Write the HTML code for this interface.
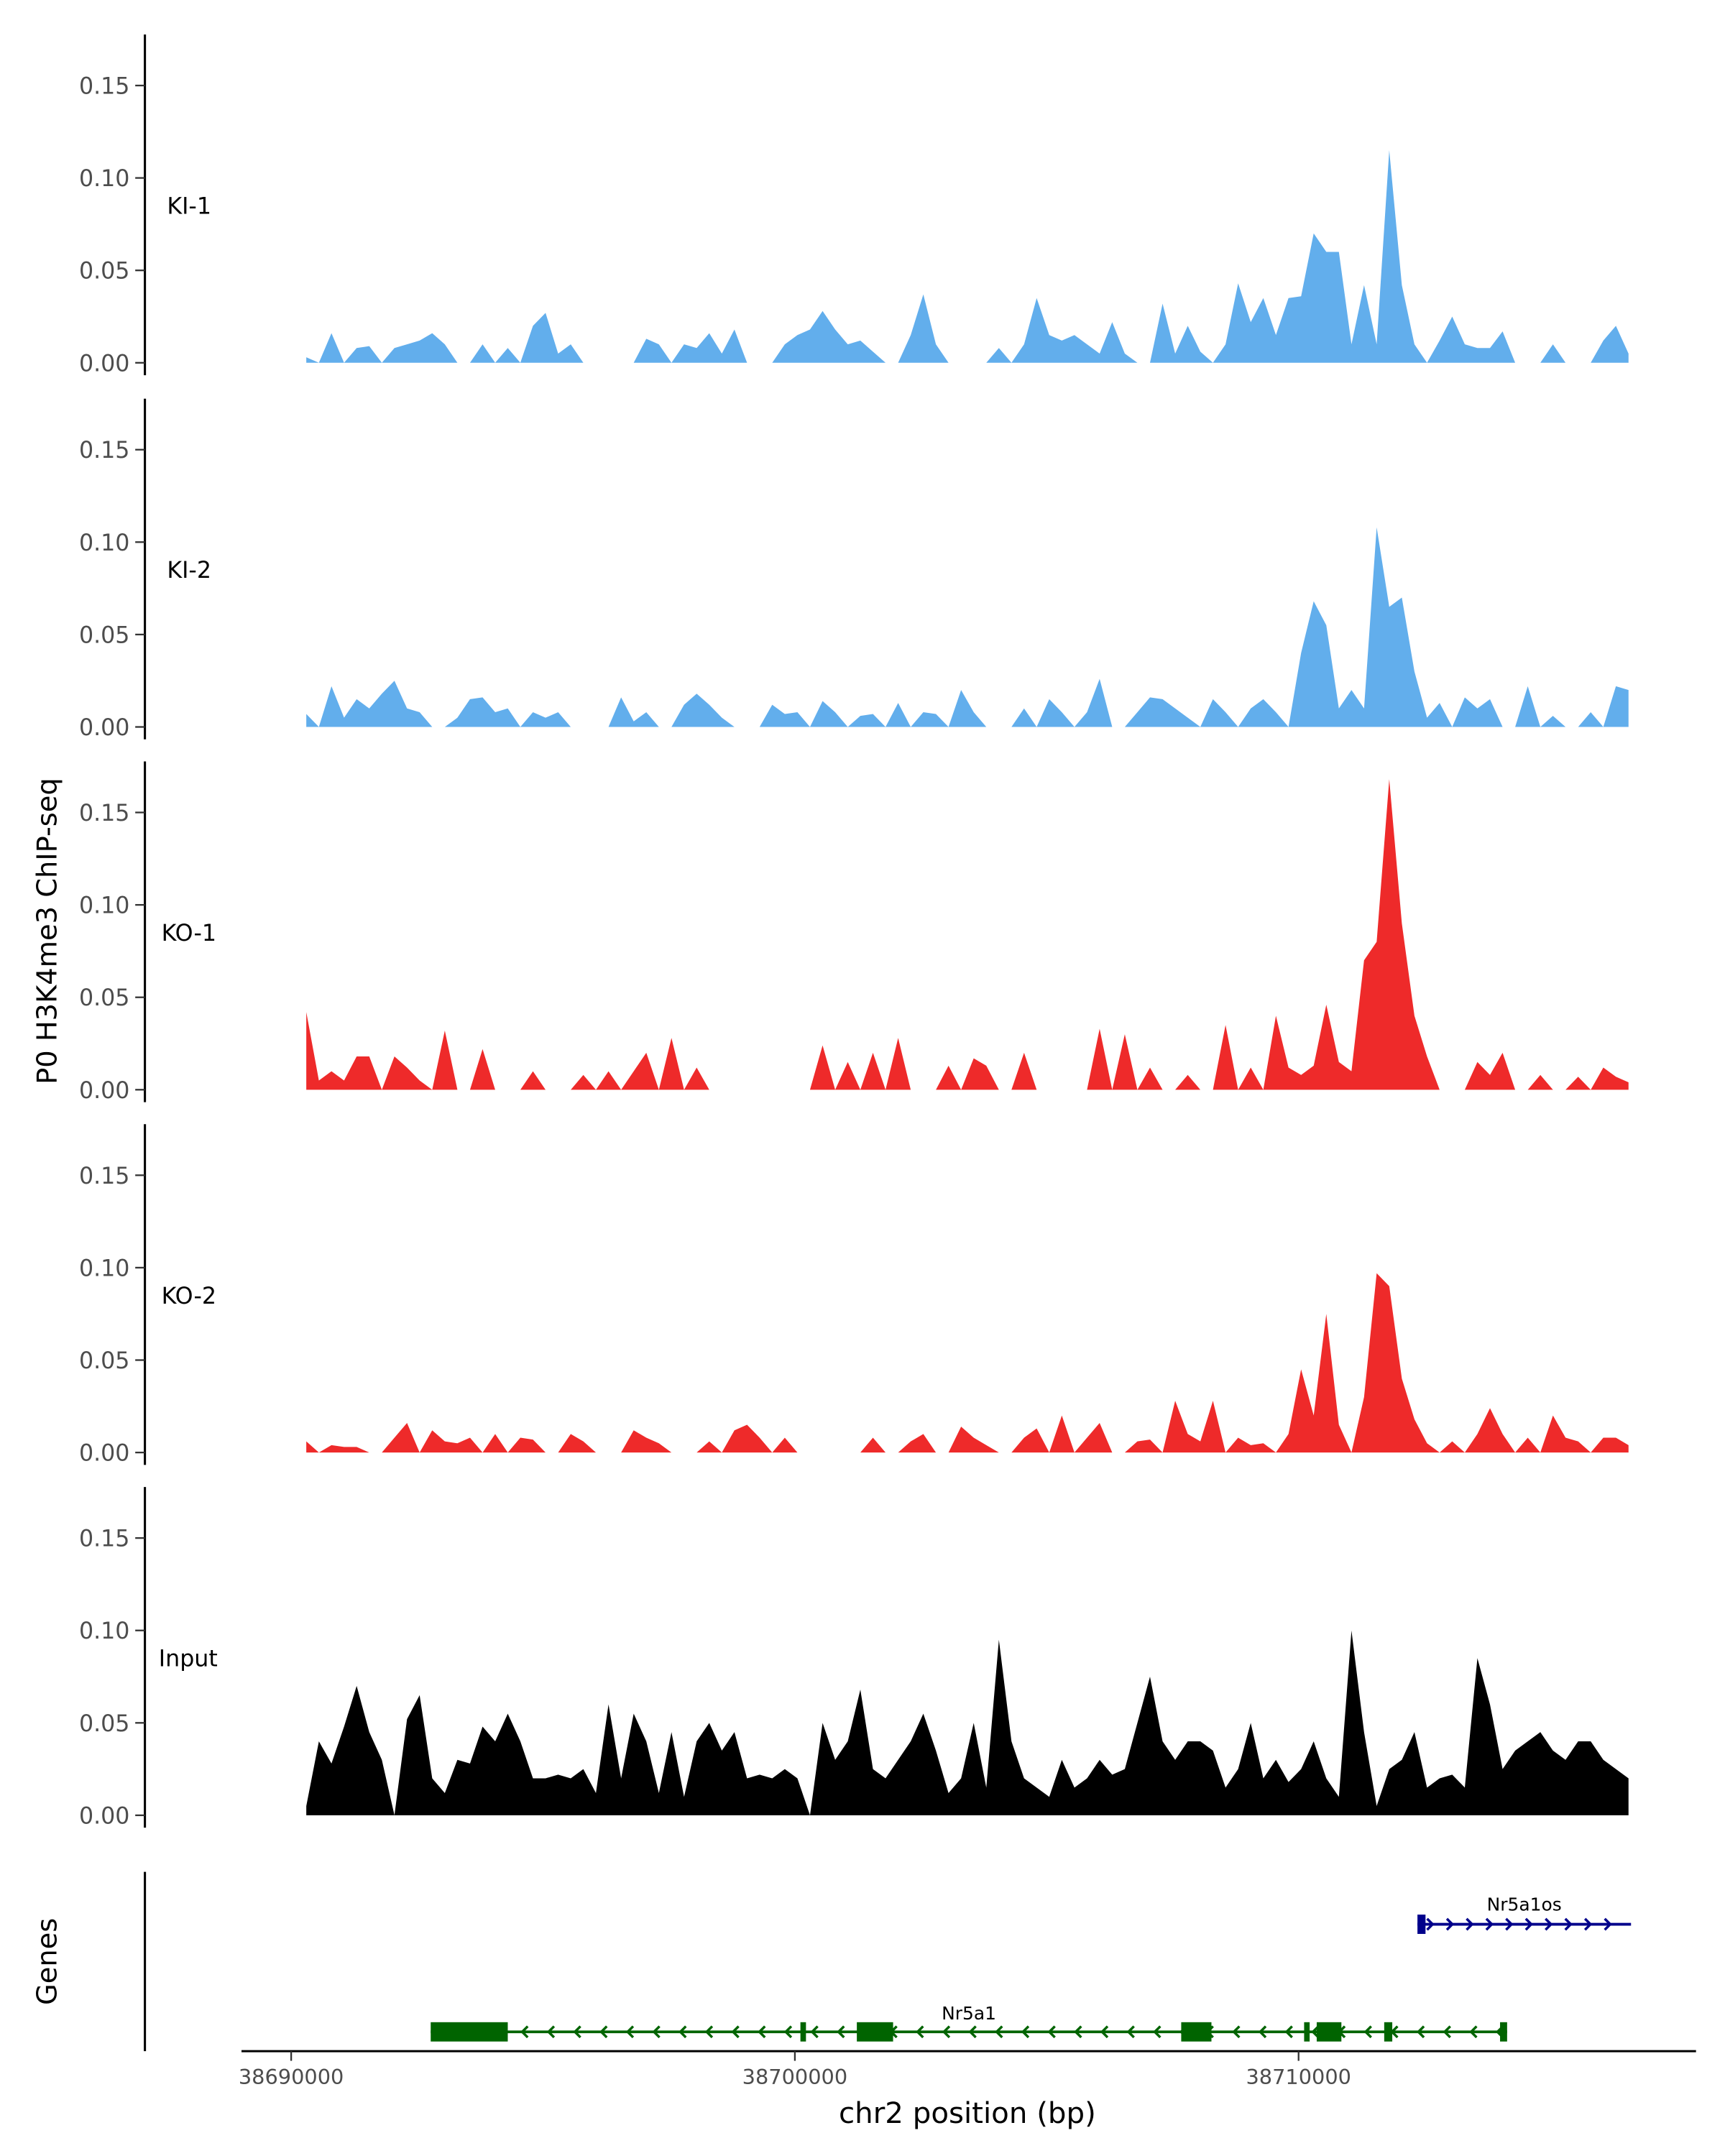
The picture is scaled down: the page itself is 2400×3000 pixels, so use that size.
<!DOCTYPE html>
<html><head><meta charset="utf-8"><style>
html,body{margin:0;padding:0;background:#fff;}
svg{display:block;}
text{font-family:"DejaVu Sans","Liberation Sans",sans-serif;}
</style></head><body>
<svg id="chart" width="2400" height="3000" viewBox="0 0 1250 1563" preserveAspectRatio="none" xmlns="http://www.w3.org/2000/svg">
<rect width="1250" height="1563" fill="#fff"/>
<g id="tracks"></g>
<g id="genes"></g>
<g id="xaxis"></g>
<text x="0" y="0" transform="translate(41,675) rotate(-90)" text-anchor="middle" font-size="20" fill="#000">P0 H3K4me3 ChIP-seq</text>
<text x="0" y="0" transform="translate(41,1422) rotate(-90)" text-anchor="middle" font-size="20" fill="#000">Genes</text>
<text x="701" y="1539" text-anchor="middle" font-size="21" fill="#000">chr2 position (bp)</text>
</svg>
<script>
const binStartKb = 38690.3;
const binWidthKb = 0.25;
const trackNames = ["KI-1","KI-2","KO-1","KO-2","Input"];
const trackColors = ["#62AEEC","#62AEEC","#EE2A2A","#EE2A2A","#000000"];
const yTicks = [0, 0.05, 0.10, 0.15];
const yTickLabels = ["0.00","0.05","0.10","0.15"];
const xTicks = [38690000, 38700000, 38710000];
const xTickLabels = ["38690000","38700000","38710000"];

const ki1 = [0.003,0,0.016,0,0.008,0.009,0,0.008,0.01,0.012,0.016,0.01,0,0,0.01,0,0.008,0,0.02,0.027,0.005,0.01,0,0,0,0,0,0.013,0.01,0,0.01,0.008,0.016,0.005,0.018,0,0,0,0.01,0.015,0.018,0.028,0.018,0.01,0.012,0.006,0,0,0.015,0.037,0.01,0,0,0,0,0.008,0,0.01,0.035,0.015,0.012,0.015,0.01,0.005,0.022,0.005,0,0,0.032,0.005,0.02,0.006,0,0.01,0.043,0.022,0.035,0.015,0.035,0.036,0.07,0.06,0.06,0.01,0.042,0.01,0.115,0.042,0.01,0,0.012,0.025,0.01,0.008,0.008,0.017,0,0,0,0.01,0,0,0,0.012,0.02,0.005];
const ki2 = [0.007,0,0.022,0.005,0.015,0.01,0.018,0.025,0.01,0.008,0,0,0.005,0.015,0.016,0.008,0.01,0,0.008,0.005,0.008,0,0,0,0,0.016,0.003,0.008,0,0,0.012,0.018,0.012,0.005,0,0,0,0.012,0.007,0.008,0,0.014,0.008,0,0.006,0.007,0,0.013,0,0.008,0.007,0,0.02,0.008,0,0,0,0.01,0,0.015,0.008,0,0.008,0.026,0,0,0.008,0.016,0.015,0.01,0.005,0,0.015,0.008,0,0.01,0.015,0.008,0,0.04,0.068,0.055,0.01,0.02,0.01,0.108,0.065,0.07,0.03,0.005,0.013,0,0.016,0.01,0.015,0,0,0.022,0,0.006,0,0,0.008,0,0.022,0.02];
const ko1 = [0.042,0.005,0.01,0.005,0.018,0.018,0,0.018,0.012,0.005,0,0.032,0,0,0.022,0,0,0,0.01,0,0,0,0.008,0,0.01,0,0.01,0.02,0,0.028,0,0.012,0,0,0,0,0,0,0,0,0,0.024,0,0.015,0,0.02,0,0.028,0,0,0,0.013,0,0.017,0.013,0,0,0.02,0,0,0,0,0,0.033,0,0.03,0,0.012,0,0,0.008,0,0,0.035,0,0.012,0,0.04,0.012,0.008,0.013,0.046,0.015,0.01,0.07,0.08,0.168,0.09,0.04,0.018,0,0,0,0.015,0.008,0.02,0,0,0.008,0,0,0.007,0,0.012,0.007,0.004];
const ko2 = [0.006,0,0.004,0.003,0.003,0,0,0.008,0.016,0,0.012,0.006,0.005,0.008,0,0.01,0,0.008,0.007,0,0,0.01,0.006,0,0,0,0.012,0.008,0.005,0,0,0,0.006,0,0.012,0.015,0.008,0,0.008,0,0,0,0,0,0,0.008,0,0,0.006,0.01,0,0,0.014,0.008,0.004,0,0,0.008,0.013,0,0.02,0,0.008,0.016,0,0,0.006,0.007,0,0.028,0.01,0.006,0.028,0,0.008,0.004,0.005,0,0.01,0.045,0.02,0.075,0.015,0,0.03,0.097,0.09,0.04,0.018,0.005,0,0.006,0,0.01,0.024,0.01,0,0.008,0,0.02,0.008,0.006,0,0.008,0.008,0.004];
const input = [0.005,0.04,0.028,0.048,0.07,0.045,0.03,0,0.052,0.065,0.02,0.012,0.03,0.028,0.048,0.04,0.055,0.04,0.02,0.02,0.022,0.02,0.025,0.012,0.06,0.02,0.055,0.04,0.012,0.045,0.01,0.04,0.05,0.035,0.045,0.02,0.022,0.02,0.025,0.02,0,0.05,0.03,0.04,0.068,0.025,0.02,0.03,0.04,0.055,0.035,0.012,0.02,0.05,0.015,0.095,0.04,0.02,0.015,0.01,0.03,0.015,0.02,0.03,0.022,0.025,0.05,0.075,0.04,0.03,0.04,0.04,0.035,0.015,0.025,0.05,0.02,0.03,0.018,0.025,0.04,0.02,0.01,0.1,0.045,0.005,0.025,0.03,0.045,0.015,0.02,0.022,0.015,0.085,0.06,0.025,0.035,0.04,0.045,0.035,0.03,0.04,0.04,0.03,0.025,0.02];
const trackData = [ki1, ki2, ko1, ko2, input];

const geneNames = ["Nr5a1","Nr5a1os"];
const nr5a1Span = [38692.77, 38714.14];
const nr5a1ExonStarts = [38692.77, 38700.11, 38701.23, 38707.67, 38710.11, 38710.36, 38711.70, 38714.00];
const nr5a1ExonEnds   = [38694.30, 38700.22, 38701.95, 38708.27, 38710.22, 38710.85, 38711.86, 38714.14];
const nr5a1osSpan = [38712.36, 38716.60];
const nr5a1osExonStarts = [38712.36];
const nr5a1osExonEnds = [38712.52];

const NS = "http://www.w3.org/2000/svg";
const X0 = 211, PXKB = 36.5;
function xScale(kb){ return X0 + (kb - 38690) * PXKB; }
function xScaleBp(bp){ return xScale(bp/1000); }
const panelBase = [263, 527, 790, 1053, 1316];
const PXUNIT = 1340;
function yScale(v, p){ return panelBase[p] - v * PXUNIT; }
function mk(tag, attrs, parent){ const e=document.createElementNS(NS,tag); for(const k in attrs) e.setAttribute(k,attrs[k]); parent.appendChild(e); return e; }

const tracksG = document.getElementById('tracks');
trackData.forEach((vals, p) => {
  const g = mk('g', {}, tracksG);
  
  
  const base = panelBase[p];
  const ax = mk('line', {x1:105, x2:105, y1:base-238, y2:base+9, stroke:'#000', 'stroke-width':1.6}, g);
  
  
  yTicks.forEach((t, i) => {
    const y = yScale(t, p);
    const tk = mk('line', {x1:98, x2:105, y1:y, y2:y, stroke:'#333', 'stroke-width':1.2}, g);
    
    
    const lb = mk('text', {x:94, y:y+6, 'text-anchor':'end', 'font-size':16.5, fill:'#4d4d4d'}, g);
    lb.textContent = yTickLabels[i];
    
    
  });
  const tl = mk('text', {x: p===4 ? 115 : (p>=2 ? 117 : 121), y: base-108, 'font-size':16.5, fill:'#000'}, g);
  tl.textContent = trackNames[p];
  
  
  let d = 'M' + xScale(binStartKb).toFixed(2) + ',' + base;
  vals.forEach((v, i) => {
    d += ' L' + xScale(binStartKb + i*binWidthKb).toFixed(2) + ',' + yScale(v, p).toFixed(2);
  });
  d += ' L' + xScale(binStartKb + (vals.length-1)*binWidthKb).toFixed(2) + ',' + base + ' Z';
  const area = mk('path', {d:d, fill:trackColors[p], stroke:'none'}, g);
  
  
});

const genesG = document.getElementById('genes');
const gax = mk('line', {x1:105, x2:105, y1:1357, y2:1487, stroke:'#000', 'stroke-width':1.6}, genesG);



function drawGene(name, span, starts, ends, y, color, dir, labelY){
  const g = mk('g', {}, genesG);
  
  
  const x1 = xScale(span[0]), x2 = xScale(span[1]);
  mk('line', {x1:x1, x2:x2, y1:y, y2:y, stroke:color, 'stroke-width':2}, g);
  for (let x = x1 + 10; x < x2 - 4; x += dir>0 ? 14.3 : 19.1) {
    const dpath = dir>0 ? `M${x-3},${y-4} L${x+1},${y} L${x-3},${y+4}` : `M${x+3},${y-4} L${x-1},${y} L${x+3},${y+4}`;
    mk('path', {d:dpath, fill:'none', stroke:color, 'stroke-width':1.8}, g);
  }
  starts.forEach((s, i) => {
    const r = mk('rect', {x:xScale(s), y:y-7, width:Math.max(2, xScale(ends[i])-xScale(s)), height:14, fill:color}, g);
    
    
  });
  const t = mk('text', {x:(x1+x2)/2, y:labelY, 'text-anchor':'middle', 'font-size':13, fill:'#000'}, g);
  t.textContent = name;
  
  
}
drawGene(geneNames[0], nr5a1Span, nr5a1ExonStarts, nr5a1ExonEnds, 1473, '#006400', -1, 1464);
drawGene(geneNames[1], nr5a1osSpan, nr5a1osExonStarts, nr5a1osExonEnds, 1395, '#00008B', 1, 1385);

const xg = document.getElementById('xaxis');
const xl = mk('line', {x1:175, x2:1229, y1:1487, y2:1487, stroke:'#000', 'stroke-width':1.6}, xg);


xTicks.forEach((t, i) => {
  const x = xScaleBp(t);
  const tk = mk('line', {x1:x, x2:x, y1:1487, y2:1494, stroke:'#333', 'stroke-width':1.2}, xg);
  
  
  const lb = mk('text', {x:x, y:1511, 'text-anchor':'middle', 'font-size':15, fill:'#4d4d4d'}, xg);
  lb.textContent = xTickLabels[i];
  
  
});
</script>
</body></html>
